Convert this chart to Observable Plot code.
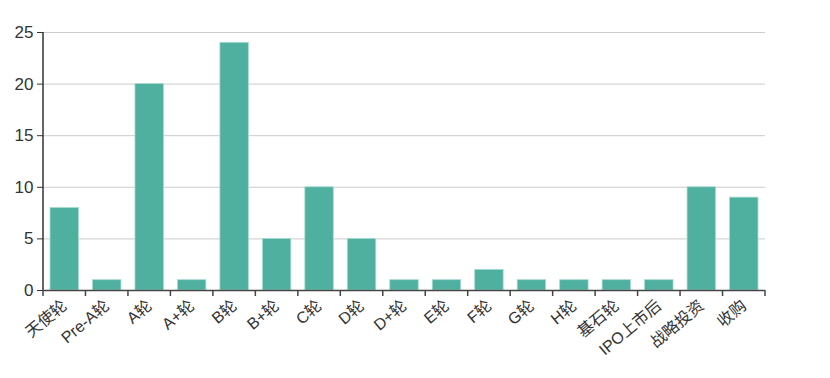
<!DOCTYPE html>
<html><head><meta charset="utf-8">
<script src="https://cdn.jsdelivr.net/npm/d3@7"></script>
<script src="https://cdn.jsdelivr.net/npm/@observablehq/plot@0.6"></script>
<style>body{margin:0;background:#fff;} svg{display:block;}</style>
</head><body><div id="chart"></div>
<script>
const categories = ["天使轮","Pre-A轮","A轮","A+轮","B轮","B+轮","C轮","D轮","D+轮","E轮","F轮","G轮","H轮","基石轮","IPO上市后","战略投资","收购"];
const values = [8,1,20,1,24,5,10,5,1,1,2,1,1,1,1,10,9];
const yTicks = [0,5,10,15,20,25];
const data = categories.map((c,i)=>({cat:c, v:values[i]}));
const font = "'Liberation Sans', 'Noto Sans CJK SC', sans-serif";

const plot = Plot.plot({
  width: 830, height: 378,
  marginLeft: 43, marginRight: 65, marginTop: 32, marginBottom: 88,
  style: {fontFamily: font, background: "#fff", overflow: "visible"},
  x: {domain: categories, padding: 0, round: false, label: null},
  y: {domain: [0,25], label: null},
  marks: [
    Plot.gridY(yTicks, {stroke: "#ccc", strokeOpacity: 1}),
    Plot.barY(data, {x: "cat", y: "v", fill: "#4fb0a0", stroke: "#a8dcd2", strokeWidth: 0.8, insetLeft: 7, insetRight: 7}),
    Plot.axisY(yTicks, {tickSize: 6, tickPadding: 4, fontSize: 17, fill: "#333", stroke: "#333", label: null}),
    Plot.axisX({tickSize: 0, tickPadding: 13, tickRotate: -40, fontSize: 16, fill: "#333", label: null}),
    Plot.ruleY([0], {stroke: "#444", strokeWidth: 1.5})
  ]
});
document.getElementById("chart").appendChild(plot);

// y axis line and category boundary ticks (ECharts-like)
const xs = plot.scale("x");
const ys = plot.scale("y");
const y0 = ys.apply(0);
const yTop = ys.apply(25);
const svg = d3.select(plot);
const g = svg.append("g").attr("stroke", "#444").attr("stroke-width", 1.5);
const bounds = categories.map(c => xs.apply(c));
bounds.push(xs.apply(categories[categories.length-1]) + xs.bandwidth);
bounds.forEach(b => g.append("line").attr("x1", b).attr("x2", b).attr("y1", y0).attr("y2", y0 + 6));
g.append("line").attr("x1", bounds[0]).attr("x2", bounds[0]).attr("y1", yTop).attr("y2", y0).attr("stroke", "#333");
</script></body></html>
